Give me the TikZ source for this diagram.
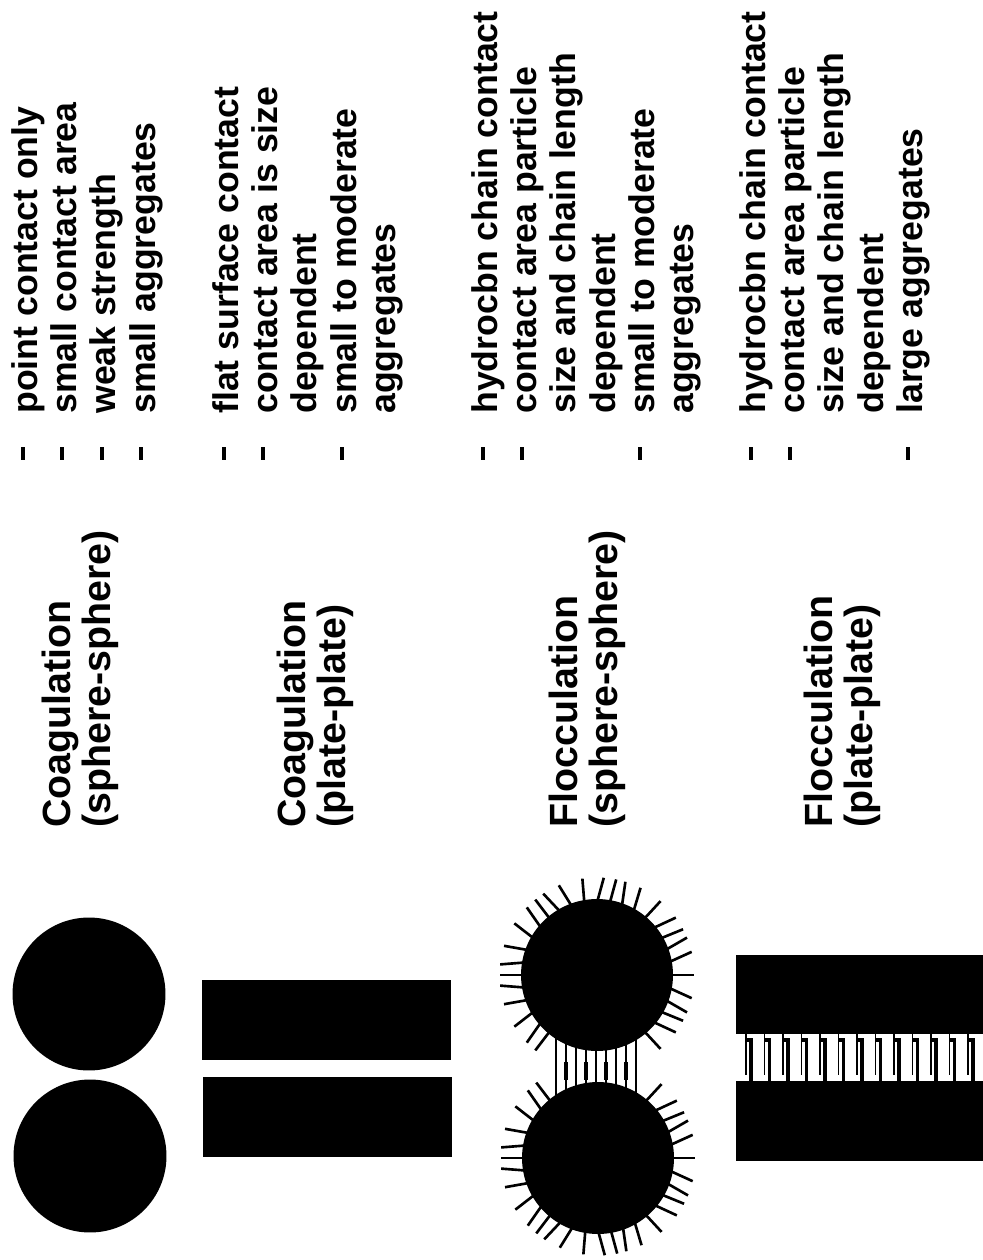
\documentclass[tikz,border=0pt]{standalone}
\usepackage{fontspec}
\setmainfont{Liberation Sans}
\usetikzlibrary{calc}

% dash in front of a listed property
\newcommand{\dashitem}{\llap{\raisebox{6.9pt}{\rule{7.4pt}{2.3pt}}\hspace{0.66cm}}}

\begin{document}
\begin{tikzpicture}[x=0.02cm, y=-0.02cm,
    heading/.style={rotate=90, anchor=base west, inner sep=0pt, font=\bfseries\fontsize{22.4}{22.8}\selectfont},
    notes/.style={rotate=90, anchor=base west, inner sep=0pt, font=\bfseries\fontsize{20.3}{22.4}\selectfont},
    hair/.style={line width=1.5pt},
    chain/.style={line width=0.9pt},
    stem/.style={line width=2.2pt},
]
\useasboundingbox (0,0) rectangle (983,1260);
\clip (0,0) rectangle (983,1260);

% properties
\node[notes] (n1) at (37,414) {\begin{tabular}[t]{@{}l@{}}
  \dashitem point contact only\\
  \dashitem small contact area\\
  \dashitem weak strength\\
  \dashitem small aggregates
\end{tabular}};
\node[notes] (n2) at (238,414) {\begin{tabular}[t]{@{}l@{}}
  \dashitem flat surface contact\\
  \dashitem contact area is size\\
  dependent\\
  \dashitem small to moderate\\
  aggregates
\end{tabular}};
\node[notes] (n3) at (497,414) {\begin{tabular}[t]{@{}l@{}}
  \dashitem hydrocbn chain contact\\
  \dashitem contact area particle\\
  size and chain length\\
  dependent\\
  \dashitem small to moderate\\
  aggregates
\end{tabular}};
\node[notes] (n4) at (765,414) {\begin{tabular}[t]{@{}l@{}}
  \dashitem hydrocbn chain contact\\
  \dashitem contact area particle\\
  size and chain length\\
  dependent\\
  \dashitem large aggregates
\end{tabular}};

% headings
\node[heading] (h1) at (70,828) {\begin{tabular}[t]{@{}l@{}}Coagulation\\(sphere-sphere)\end{tabular}};
\node[heading] (h2) at (305,828) {\begin{tabular}[t]{@{}l@{}}Coagulation\\(plate-plate)\end{tabular}};
\node[heading] (h3) at (577,828) {\begin{tabular}[t]{@{}l@{}}Flocculation\\(sphere-sphere)\end{tabular}};
\node[heading] (h4) at (832,828) {\begin{tabular}[t]{@{}l@{}}Flocculation\\(plate-plate)\end{tabular}};

% coagulation, spheres
\coordinate (c1) at (89,994);
\coordinate (c2) at (90,1156);
\fill (c1) circle (1.53cm);
\fill (c2) circle (1.53cm);

% coagulation, plates
\fill (202,980) rectangle (451,1060);
\fill (203,1077) rectangle (452,1157);

% flocculation, spheres
\coordinate (f1) at (597,975);
\coordinate (f2) at (598,1158);
\foreach \x in {556,566,...,637}
  \draw[chain] (\x,1030) -- (\x,1105);
\foreach \x in {566,586,606,626}
  \draw[stem] (\x,1062) -- (\x,1080);
\foreach \a in {-50,-40,...,230}
  \draw[hair] ($(f1)+(\a:1.45cm)$) -- ($(f1)+({\a+4*sin(7*\a)}:1.95cm)$);
\foreach \a in {130,140,...,410}
  \draw[hair] ($(f2)+(\a:1.45cm)$) -- ($(f2)+({\a+4*sin(7*\a)}:1.95cm)$);
\fill (f1) circle (1.52cm);
\fill (f2) circle (1.52cm);

% flocculation, plates
\fill (736,955) rectangle (990,1034);
\fill (736,1081) rectangle (990,1161);
\foreach \x in {751,769.5,...,985} {
  \draw[chain] (\x-5,1033) -- (\x-5,1075);
  \draw[stem] (\x-5,1040) -- (\x,1040) -- (\x,1082);
}
\end{tikzpicture}
\end{document}
